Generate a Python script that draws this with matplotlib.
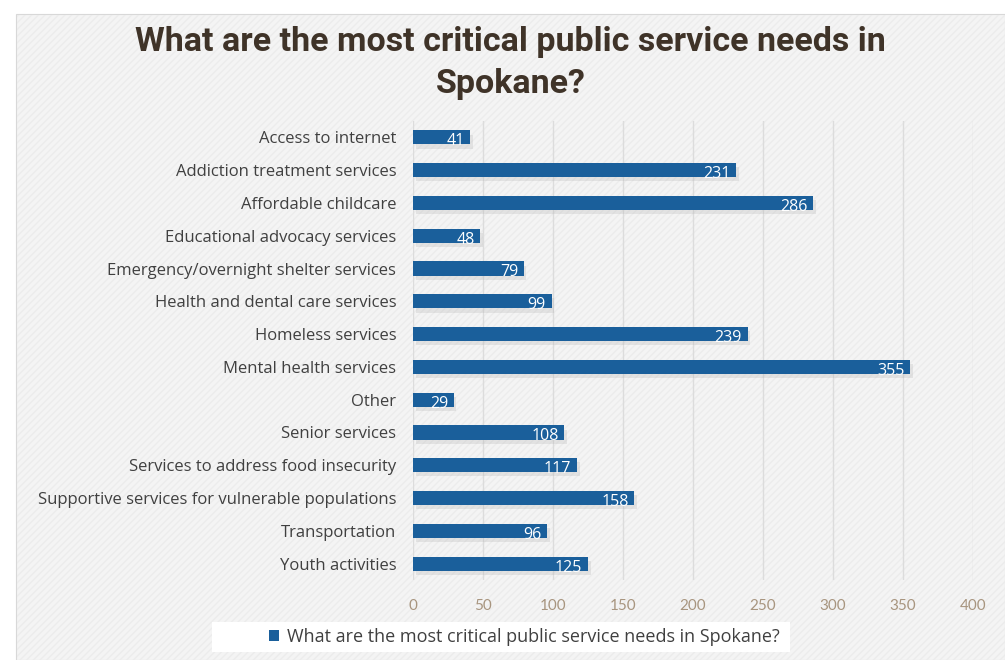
import matplotlib.pyplot as plt
import matplotlib.patheffects as pe
from matplotlib.patches import Rectangle, Patch

categories = [
    "Access to internet",
    "Addiction treatment services",
    "Affordable childcare",
    "Educational advocacy services",
    "Emergency/overnight shelter services",
    "Health and dental care services",
    "Homeless services",
    "Mental health services",
    "Other",
    "Senior services",
    "Services to address food insecurity",
    "Supportive services for vulnerable populations",
    "Transportation",
    "Youth activities",
]
counts = [41, 231, 286, 48, 79, 99, 239, 355, 29, 108, 117, 158, 96, 125]
x_ticks = [0, 50, 100, 150, 200, 250, 300, 350, 400]

series_name = "What are the most critical public service needs in Spokane?"
title = "What are the most critical public service needs in\nSpokane?"

BAR = "#1a5f9b"
TEXT = "#404040"
TICK = "#a8957f"
TITLE = "#3f3328"

fig = plt.figure(figsize=(10.05, 6.6), dpi=100)
fig.patch.set_facecolor("white")

# light panel with a faint diagonal texture behind everything
panel = Rectangle((16 / 1005, 0), 1 - 16 / 1005, 1 - 14 / 660,
                  transform=fig.transFigure, facecolor="#f4f4f4",
                  edgecolor="#d8d8d8", linewidth=0.8, zorder=-3)
fig.patches.append(panel)
texture = Rectangle((17 / 1005, 0), 1 - 17 / 1005, 1 - 15 / 660,
                    transform=fig.transFigure, facecolor="none",
                    edgecolor="#ececec", hatch="/////", linewidth=0, zorder=-2)
fig.patches.append(texture)

# white strip behind the legend, wider than the legend itself
fig.patches.append(Rectangle((212 / 1005, 1 - 652 / 660), 578 / 1005, 30 / 660,
                             transform=fig.transFigure, facecolor="white",
                             edgecolor="none", zorder=-1))

ax = fig.add_axes([413 / 1005, 1 - 580 / 660, 560 / 1005, 459 / 660])
ax.set_facecolor("none")

ypos = list(range(len(categories)))
bars = ax.barh(ypos, counts, height=0.43, color=BAR, zorder=3)
for b in bars:
    b.set_path_effects([pe.SimplePatchShadow(offset=(2, -3), shadow_rgbFace="#b0b0b0", alpha=0.25),
                        pe.Normal()])

for y, v in zip(ypos, counts):
    ax.text(v - 4, y + 0.12, str(v), ha="right", va="center", color="white",
            fontsize=11.5, family="Open Sans", zorder=4)

ax.set_xlim(0, 400)
ax.set_ylim(len(categories) - 0.5, -0.5)
ax.set_xticks(x_ticks)
ax.set_xticklabels([str(t) for t in x_ticks], color=TICK, fontsize=11, family="Lato")
ax.set_yticks(ypos)
ax.set_yticklabels(categories, color=TEXT, fontsize=12, family="Open Sans")
ax.tick_params(axis="both", length=0)
ax.tick_params(axis="x", pad=14)
ax.tick_params(axis="y", pad=12)
ax.xaxis.grid(True, color="#dcdcdc", linewidth=1, zorder=0)
for s in ax.spines.values():
    s.set_visible(False)

fig.text(0.508, 1 - 26 / 660, title, ha="center", va="top", color=TITLE,
         fontsize=24.5, fontweight="bold", family="Roboto", linespacing=1.42)

leg = fig.legend(handles=[Patch(facecolor=BAR, label=series_name)],
                 loc="center", bbox_to_anchor=(524 / 1005, 1 - 637 / 660),
                 frameon=False, handlelength=0.6, handleheight=0.6,
                 handletextpad=0.4, borderpad=0.5,
                 prop={"family": "Open Sans", "size": 13})
for t in leg.get_texts():
    t.set_color(TEXT)

fig.savefig("out.png", dpi=100)
